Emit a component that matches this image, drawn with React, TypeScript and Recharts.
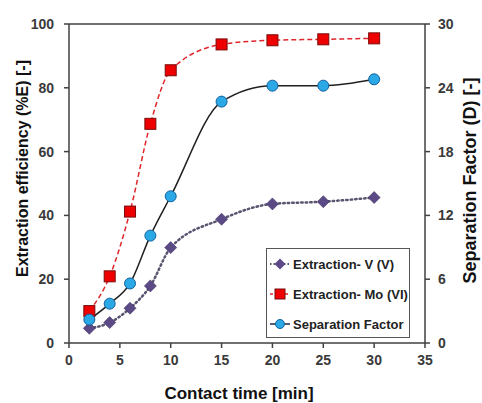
import React from "react";
import {
  ComposedChart,
  Line,
  XAxis,
  YAxis,
  Legend,
  ReferenceLine,
} from "recharts";

const contactTime = [2, 4, 6, 8, 10, 15, 20, 25, 30];
const extractionV = [4.6, 6.4, 10.9, 17.9, 29.9, 38.8, 43.6, 44.3, 45.6];
const extractionMo = [10.0, 20.9, 41.2, 68.7, 85.5, 93.6, 94.9, 95.2, 95.5];
const separationFactor = [2.2, 3.7, 5.6, 10.1, 13.8, 22.7, 24.2, 24.2, 24.8];

const xTicks = [0, 5, 10, 15, 20, 25, 30, 35];
const leftTicks = [0, 20, 40, 60, 80, 100];
const rightTicks = [0, 6, 12, 18, 24, 30];

const seriesNames = ["Extraction- V (V)", "Extraction- Mo (VI)", "Separation Factor"];

const data = contactTime.map((t, i) => ({
  t,
  v: extractionV[i],
  mo: extractionMo[i],
  sf: separationFactor[i],
}));

const FONT = "Arial, 'Liberation Sans', sans-serif";
const AXIS = "#404040";

const COLORS = {
  vLine: "#5a5470",
  vFill: "#5b4a86",
  moLine: "#e0262b",
  moFill: "#ee0000",
  moStroke: "#7a0a0a",
  sfLine: "#202020",
  sfFill: "#2aa9e6",
  sfStroke: "#12609c",
};

const Diamond = (props: any) => {
  const { cx, cy, index } = props;
  if (cx == null || cy == null) return <g key={"d" + index} />;
  const r = 6;
  return (
    <path
      key={"d" + index}
      d={`M${cx},${cy - r}L${cx + r},${cy}L${cx},${cy + r}L${cx - r},${cy}Z`}
      fill={COLORS.vFill}
      stroke="#3e3060"
      strokeWidth={0.6}
    />
  );
};

const Square = (props: any) => {
  const { cx, cy, index } = props;
  if (cx == null || cy == null) return <g key={"s" + index} />;
  const h = 5.5;
  return (
    <rect
      key={"s" + index}
      x={cx - h}
      y={cy - h}
      width={2 * h}
      height={2 * h}
      fill={COLORS.moFill}
      stroke={COLORS.moStroke}
      strokeWidth={1}
    />
  );
};

const Circle = (props: any) => {
  const { cx, cy, index } = props;
  if (cx == null || cy == null) return <g key={"c" + index} />;
  return (
    <circle
      key={"c" + index}
      cx={cx}
      cy={cy}
      r={5.5}
      fill={COLORS.sfFill}
      stroke={COLORS.sfStroke}
      strokeWidth={1}
    />
  );
};

const LegendBox = () => {
  const row = (i: number) => {
    let icon: React.ReactNode;
    if (i === 0) {
      icon = (
        <svg width={22} height={14}>
          <line x1={1} y1={7} x2={21} y2={7} stroke={COLORS.vLine} strokeWidth={2} strokeDasharray="1.5 2" />
          <path d="M11,1.5L16.5,7L11,12.5L5.5,7Z" fill={COLORS.vFill} />
        </svg>
      );
    } else if (i === 1) {
      icon = (
        <svg width={22} height={14}>
          <line x1={1} y1={7} x2={21} y2={7} stroke={COLORS.moLine} strokeWidth={1.5} strokeDasharray="3 2" />
          <rect x={6} y={2} width={10} height={10} fill={COLORS.moFill} stroke={COLORS.moStroke} />
        </svg>
      );
    } else {
      icon = (
        <svg width={22} height={14}>
          <line x1={1} y1={7} x2={21} y2={7} stroke="#1c2a44" strokeWidth={1.5} />
          <circle cx={11} cy={7} r={4.5} fill={COLORS.sfFill} stroke={COLORS.sfStroke} />
        </svg>
      );
    }
    return (
      <div
        key={i}
        style={{
          height: 30,
          display: "flex",
          alignItems: "center",
          paddingLeft: 2,
        }}
      >
        {icon}
        <span
          style={{
            marginLeft: 2,
            fontFamily: FONT,
            fontWeight: "bold",
            fontSize: 13,
            color: "#222",
            whiteSpace: "nowrap",
          }}
        >
          {seriesNames[i]}
        </span>
      </div>
    );
  };
  return (
    <div
      style={{
        width: 142,
        height: 88,
        border: "1px solid #555",
        background: "#fff",
        boxSizing: "content-box",
      }}
    >
      {[0, 1, 2].map(row)}
    </div>
  );
};

const VerticalTitle = (cxShift: number, cyShift: number, size: number, weight: string) =>
  (props: any) => {
    const { viewBox, value } = props;
    const cx = viewBox.x + cxShift;
    const cy = viewBox.y + viewBox.height / 2 + cyShift;
    return (
      <text
        x={cx}
        y={cy}
        transform={`rotate(-90 ${cx} ${cy})`}
        textAnchor="middle"
        dominantBaseline="central"
        fontFamily={FONT}
        fontWeight={weight}
        fontSize={size}
        fill="#111"
      >
        {value}
      </text>
    );
  };

const XTitle = (props: any) => {
  const { viewBox, value } = props;
  const cx = viewBox.x + viewBox.width / 2 - 8;
  const cy = 393;
  return (
    <text
      x={cx}
      y={cy}
      textAnchor="middle"
      dominantBaseline="central"
      fontFamily={FONT}
      fontWeight="bold"
      fontSize={17}
      fill="#111"
    >
      {value}
    </text>
  );
};

const tickStyle = { fontFamily: FONT, fontSize: 14, fontWeight: "bold", fill: "#3a3a3a" } as any;

export default function App() {
  return (
    <div style={{ position: "absolute", left: 0, top: 0, width: 482, height: 403, background: "#fff" }}>
      <ComposedChart
        width={482}
        height={403}
        data={data}
        margin={{ top: 24, right: 0, bottom: 0, left: 0 }}
      >
        <XAxis
          dataKey="t"
          type="number"
          domain={[0, 35]}
          ticks={xTicks}
          height={60}
          stroke={AXIS}
          strokeWidth={1.5}
          tickSize={5}
          tickMargin={7}
          tick={tickStyle}
          label={{ value: "Contact time [min]", content: XTitle }}
        />
        <YAxis
          yAxisId="left"
          domain={[0, 100]}
          ticks={leftTicks}
          width={69}
          stroke={AXIS}
          strokeWidth={1.5}
          tickSize={5}
          tickMargin={10}
          tick={tickStyle}
          label={{ value: "Extraction efficiency  (%E) [-]", content: VerticalTitle(22, -15, 16, "bold") }}
        />
        <YAxis
          yAxisId="right"
          orientation="right"
          domain={[0, 30]}
          ticks={rightTicks}
          width={57}
          stroke={AXIS}
          strokeWidth={1.5}
          tickSize={5}
          tickMargin={8}
          tick={tickStyle}
          label={{ value: "Separation Factor (D) [-]", content: VerticalTitle(45, -3, 18, "bold") }}
        />
        <ReferenceLine yAxisId="left" y={100} stroke={AXIS} strokeWidth={1.5} />
        <Legend
          verticalAlign="middle"
          layout="horizontal"
          align="center"
          content={() => <LegendBox />}
          wrapperStyle={{ left: 266, top: 248, width: 144, height: 90 }}
        />
        <Line
          yAxisId="left"
          type="monotone"
          dataKey="v"
          name={seriesNames[0]}
          stroke={COLORS.vLine}
          strokeWidth={2.5}
          strokeDasharray="1.5 3"
          strokeLinecap="round"
          dot={Diamond}
          activeDot={false}
          isAnimationActive={false}
        />
        <Line
          yAxisId="left"
          type="monotone"
          dataKey="mo"
          name={seriesNames[1]}
          stroke={COLORS.moLine}
          strokeWidth={1.5}
          strokeDasharray="5 3"
          dot={Square}
          activeDot={false}
          isAnimationActive={false}
        />
        <Line
          yAxisId="right"
          type="monotone"
          dataKey="sf"
          name={seriesNames[2]}
          stroke={COLORS.sfLine}
          strokeWidth={1.5}
          dot={Circle}
          activeDot={false}
          isAnimationActive={false}
        />
      </ComposedChart>
    </div>
  );
}
